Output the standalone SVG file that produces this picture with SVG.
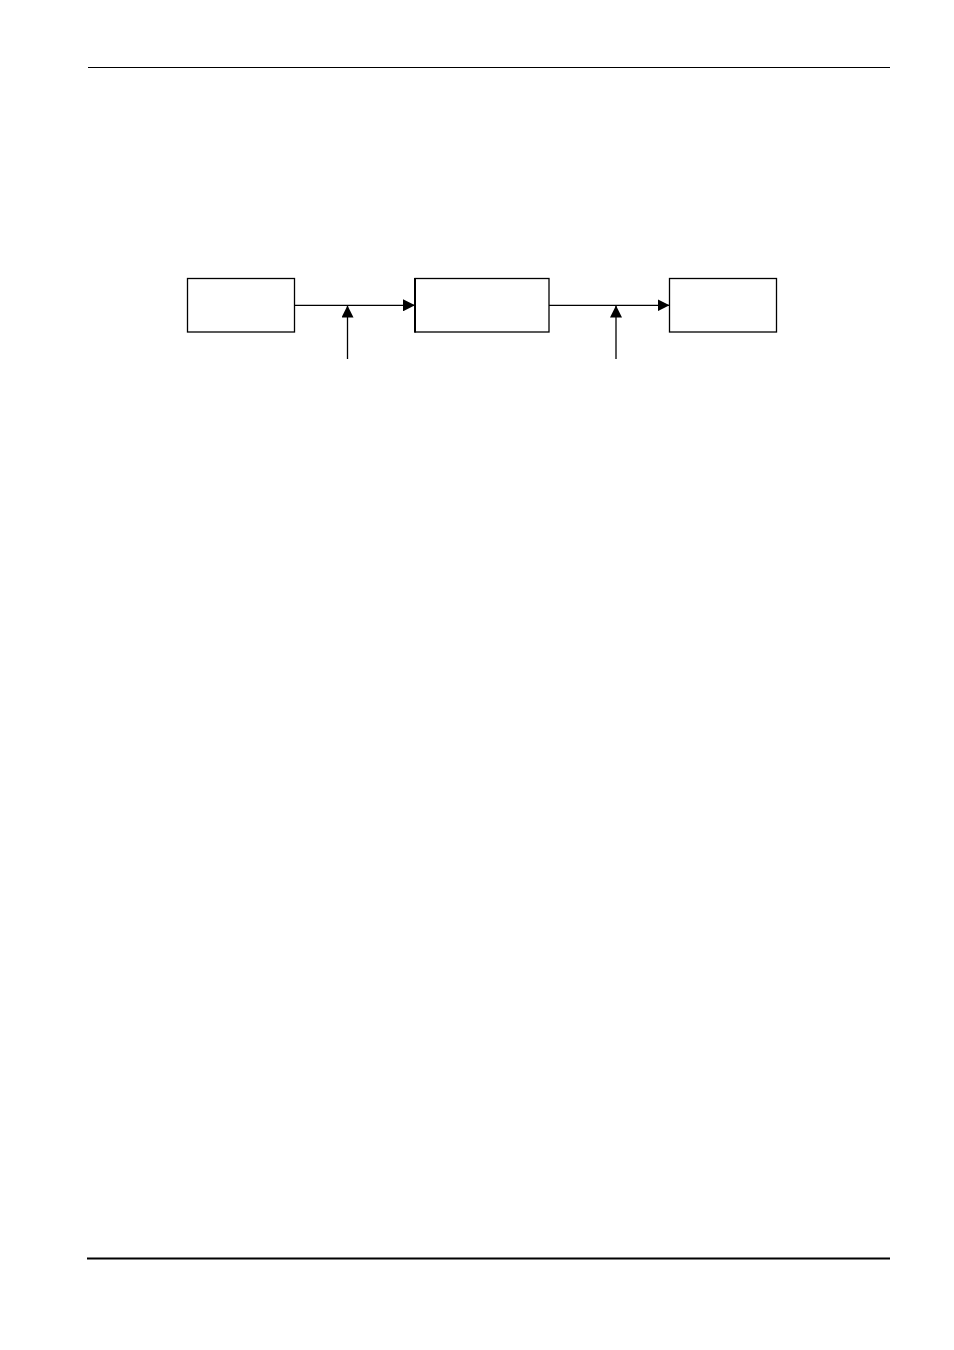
<svg xmlns="http://www.w3.org/2000/svg" width="954" height="1350" viewBox="0 0 954 1350">
<style>
.box{fill:#fff;stroke:#000;stroke-width:1.3}
.ln{stroke:#000;stroke-width:1.3;fill:none}
</style>
<defs>
<marker id="ah" viewBox="0 0 12 12" refX="12" refY="6" markerWidth="12" markerHeight="12" markerUnits="userSpaceOnUse" orient="auto">
<path d="M0,0 L12,6 L0,12 Z" fill="#000"/>
</marker>
</defs>
<rect width="954" height="1350" fill="#fff"/>
<line x1="88" y1="67.5" x2="890" y2="67.5" stroke="#000" stroke-width="1.2"/>
<line x1="87" y1="1258.5" x2="890" y2="1258.5" stroke="#000" stroke-width="2"/>
<g id="node1"><rect class="box" x="187.5" y="278.5" width="107" height="53.5"/></g>
<g id="node2"><rect class="box" x="415" y="278.5" width="134" height="53.5"/><line x1="415" y1="278" x2="415" y2="332.6" stroke="#000" stroke-width="2"/></g>
<g id="node3"><rect class="box" x="669.5" y="278.5" width="107" height="53.5"/></g>
<g id="connectors">
<line class="ln" x1="294.5" y1="305.3" x2="415" y2="305.3" marker-end="url(#ah)"/>
<line class="ln" x1="549" y1="305.3" x2="669.5" y2="305.3" marker-end="url(#ah)"/>
<line class="ln" x1="347.5" y1="359" x2="347.5" y2="305.5" marker-end="url(#ah)"/>
<line class="ln" x1="616" y1="359" x2="616" y2="305.5" marker-end="url(#ah)"/>
</g>
</svg>
